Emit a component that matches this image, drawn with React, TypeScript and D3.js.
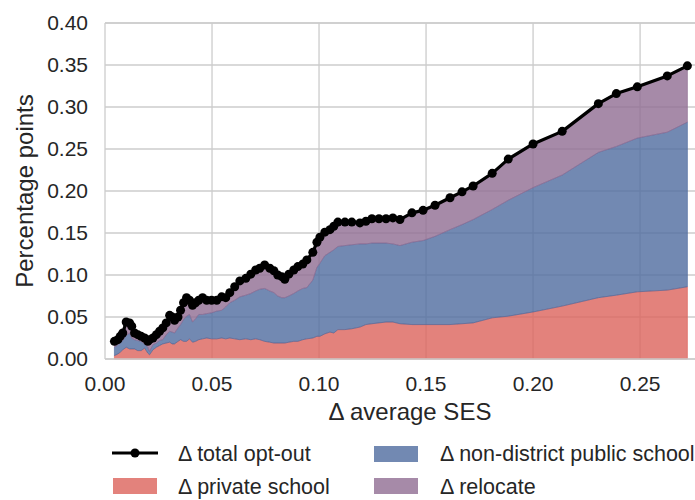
import * as d3 from "d3";

// x: change in average SES
const sesDelta = [
  0.0044, 0.006, 0.0071, 0.0083, 0.0099, 0.0115, 0.0125, 0.0138, 0.0153, 0.0169,
  0.0185, 0.02, 0.0208, 0.0224, 0.024, 0.0255, 0.027, 0.0286, 0.0302, 0.0314,
  0.0325, 0.0341, 0.0353, 0.0367, 0.0381, 0.0395, 0.0409, 0.0423, 0.0438, 0.0456,
  0.0475, 0.0498, 0.0522, 0.0545, 0.0564, 0.0583, 0.0606, 0.063, 0.0658, 0.0681,
  0.0704, 0.0723, 0.0746, 0.077, 0.0789, 0.0807, 0.0826, 0.084, 0.0859, 0.0882,
  0.0901, 0.0924, 0.0943, 0.0971, 0.099, 0.1004, 0.1027, 0.1051, 0.1069, 0.1088,
  0.1121, 0.1153, 0.1191, 0.1219, 0.1247, 0.128, 0.1313, 0.1345, 0.1378, 0.1434,
  0.1486, 0.1542, 0.1612, 0.1668, 0.172, 0.1809, 0.1884, 0.2, 0.2136, 0.2305,
  0.2389, 0.2487, 0.2627, 0.2721,
];

const totalOptOut = [
  0.021, 0.023, 0.027, 0.031, 0.044, 0.043, 0.039, 0.031, 0.029, 0.027,
  0.025, 0.021, 0.023, 0.025, 0.029, 0.033, 0.037, 0.043, 0.052, 0.05,
  0.046, 0.05, 0.058, 0.067, 0.073, 0.07, 0.064, 0.067, 0.07, 0.073,
  0.07, 0.07, 0.07, 0.074, 0.073, 0.079, 0.086, 0.093, 0.096, 0.101,
  0.106, 0.108, 0.112, 0.108, 0.105, 0.1, 0.098, 0.095, 0.101, 0.106,
  0.11, 0.113, 0.118, 0.127, 0.139, 0.145, 0.151, 0.154, 0.158, 0.163,
  0.163, 0.163, 0.162, 0.164, 0.167, 0.167, 0.167, 0.168, 0.166, 0.174,
  0.177, 0.183, 0.192, 0.199, 0.206, 0.221, 0.238, 0.256, 0.271, 0.304,
  0.316, 0.324, 0.337, 0.349,
];

const privateSchool = [
  0.004, 0.006, 0.008, 0.011, 0.014, 0.012, 0.012, 0.012, 0.01, 0.01,
  0.013, 0.007, 0.005, 0.011, 0.014, 0.016, 0.018, 0.019, 0.02, 0.018,
  0.018, 0.021, 0.023, 0.021, 0.021, 0.024, 0.02, 0.021, 0.023, 0.024,
  0.025, 0.024, 0.024, 0.025, 0.024, 0.025, 0.024, 0.023, 0.024, 0.023,
  0.024, 0.023, 0.021, 0.02, 0.019, 0.019, 0.019, 0.019, 0.02, 0.021,
  0.021, 0.023, 0.024, 0.025, 0.027, 0.027, 0.03, 0.032, 0.031, 0.035,
  0.035, 0.036, 0.038, 0.041, 0.042, 0.043, 0.044, 0.044, 0.042, 0.041,
  0.041, 0.041, 0.041, 0.042, 0.043, 0.049, 0.051, 0.056, 0.063, 0.073,
  0.076, 0.08, 0.082, 0.086,
];

const nonDistrict = [
  0.01, 0.011, 0.011, 0.011, 0.014, 0.019, 0.013, 0.011, 0.012, 0.011,
  0.005, 0.007, 0.004, 0.006, 0.005, 0.006, 0.005, 0.01, 0.013, 0.014,
  0.013, 0.016, 0.018, 0.026, 0.03, 0.029, 0.024, 0.027, 0.03, 0.029,
  0.029, 0.031, 0.033, 0.033, 0.038, 0.042, 0.046, 0.051, 0.052, 0.055,
  0.057, 0.06, 0.063, 0.061, 0.06, 0.056, 0.054, 0.054, 0.055, 0.057,
  0.06, 0.061, 0.061, 0.069, 0.082, 0.087, 0.093, 0.095, 0.099, 0.099,
  0.1, 0.1, 0.099, 0.096, 0.096, 0.095, 0.094, 0.093, 0.093, 0.098,
  0.1, 0.105, 0.113, 0.118, 0.123, 0.129, 0.138, 0.148, 0.156, 0.173,
  0.177, 0.183, 0.188, 0.196,
];

const relocate = [
  0.007, 0.006, 0.008, 0.009, 0.016, 0.012, 0.014, 0.008, 0.007, 0.006,
  0.007, 0.007, 0.014, 0.008, 0.01, 0.011, 0.014, 0.014, 0.019, 0.018,
  0.015, 0.013, 0.017, 0.02, 0.022, 0.017, 0.02, 0.019, 0.017, 0.02,
  0.016, 0.015, 0.013, 0.016, 0.011, 0.012, 0.016, 0.019, 0.02, 0.023,
  0.025, 0.025, 0.028, 0.027, 0.026, 0.025, 0.025, 0.022, 0.026, 0.028,
  0.029, 0.029, 0.033, 0.033, 0.03, 0.031, 0.028, 0.027, 0.028, 0.029,
  0.028, 0.027, 0.025, 0.027, 0.029, 0.029, 0.029, 0.031, 0.031, 0.035,
  0.036, 0.037, 0.038, 0.039, 0.04, 0.043, 0.049, 0.052, 0.052, 0.058,
  0.063, 0.061, 0.067, 0.067,
];

const xTicks = [0, 0.05, 0.1, 0.15, 0.2, 0.25];
const yTicks = [0, 0.05, 0.1, 0.15, 0.2, 0.25, 0.3, 0.35, 0.4];

const layers = [
  { key: "private", label: "\u0394 private school", color: "#dc635b" },
  { key: "nonDistrict", label: "\u0394 non-district public school", color: "#4f6b9f" },
  { key: "relocate", label: "\u0394 relocate", color: "#906d92" },
];

const W = 695;
const H = 500;
const PLOT = { left: 105, right: 715, top: 23, bottom: 359 };
const FONT = "'Liberation Sans', Arial, sans-serif";
const GRID = "#cccccc";
const TXT = "#262626";

export default function App() {
  const x = d3.scaleLinear().domain([0, 0.285]).range([PLOT.left, PLOT.right]);
  const y = d3.scaleLinear().domain([0, 0.4]).range([PLOT.bottom, PLOT.top]);

  const rows = sesDelta.map((s, i) => ({
    s,
    private: privateSchool[i],
    nonDistrict: nonDistrict[i],
    relocate: relocate[i],
  }));
  const stacked = d3.stack<any>().keys(layers.map((l) => l.key))(rows);

  const area = d3
    .area<any>()
    .x((d) => x(d.data.s))
    .y0((d) => y(d[0]))
    .y1((d) => y(d[1]));

  const pts = sesDelta.map((s, i) => [s, totalOptOut[i]] as [number, number]);
  const line = d3
    .line<[number, number]>()
    .x((d) => x(d[0]))
    .y((d) => y(d[1]));

  return (
    <div style={{ position: "absolute", left: 0, top: 0 }}>
      <svg width={W} height={H} style={{ display: "block", background: "#fff" }} fontFamily={FONT}>
        {/* grid */}
        {yTicks.map((t) => (
          <line key={"gy" + t} x1={PLOT.left} x2={PLOT.right} y1={y(t)} y2={y(t)} stroke={GRID} strokeWidth={1.3} />
        ))}
        {xTicks.slice(1).map((t) => (
          <line key={"gx" + t} x1={x(t)} x2={x(t)} y1={PLOT.top} y2={PLOT.bottom} stroke={GRID} strokeWidth={1.3} />
        ))}

        {/* stacked areas */}
        {stacked.map((s, i) => (
          <path
            key={layers[i].key}
            d={area(s) || ""}
            fill={layers[i].color}
            fillOpacity={0.8}
            stroke={layers[i].color}
            strokeOpacity={0.8}
            strokeWidth={0.8}
          />
        ))}

        {/* frame */}
        <line x1={PLOT.left} x2={PLOT.left} y1={PLOT.top} y2={PLOT.bottom} stroke={GRID} strokeWidth={1.3} />
        <line x1={PLOT.left} x2={PLOT.right} y1={PLOT.bottom} y2={PLOT.bottom} stroke={GRID} strokeWidth={1.3} />
        <line x1={PLOT.left} x2={PLOT.right} y1={PLOT.top} y2={PLOT.top} stroke={GRID} strokeWidth={1.3} />

        {/* total opt-out */}
        <path d={line(pts) || ""} fill="none" stroke="#000" strokeWidth={3.2} strokeLinejoin="round" />
        {pts.map((p, i) => (
          <circle key={i} cx={x(p[0])} cy={y(p[1])} r={4.5} fill="#000" />
        ))}

        {/* y ticks */}
        {yTicks.map((t) => (
          <text key={"ty" + t} x={88} y={y(t)} dy="0.35em" textAnchor="end" fontSize={21} fill={TXT}>
            {d3.format(".2f")(t)}
          </text>
        ))}
        {/* x ticks */}
        {xTicks.map((t) => (
          <text key={"tx" + t} x={x(t)} y={384} dy="0.35em" textAnchor="middle" fontSize={21} fill={TXT}>
            {d3.format(".2f")(t)}
          </text>
        ))}

        <text x={410} y={412} dy="0.35em" textAnchor="middle" fontSize={24} fill={TXT}>
          {"\u0394 average SES"}
        </text>
        <text
          transform={`translate(25,${(PLOT.top + PLOT.bottom) / 2}) rotate(-90)`}
          dy="0.35em"
          textAnchor="middle"
          fontSize={24}
          fill={TXT}
        >
          Percentage points
        </text>

        {/* legend */}
        <g fontSize={21.5} fill={TXT}>
          <line x1={112} x2={158} y1={453} y2={453} stroke="#000" strokeWidth={3.2} />
          <circle cx={135} cy={453} r={4.5} fill="#000" />
          <text x={178} y={453} dy="0.35em">{"\u0394 total opt-out"}</text>

          <rect x={113} y={478} width={44} height={16} fill={layers[0].color} fillOpacity={0.8} />
          <text x={178} y={486} dy="0.35em">{layers[0].label}</text>

          <rect x={374} y={446} width={44} height={16} fill={layers[1].color} fillOpacity={0.8} />
          <text x={440} y={453} dy="0.35em">{layers[1].label}</text>

          <rect x={374} y={478} width={44} height={16} fill={layers[2].color} fillOpacity={0.8} />
          <text x={440} y={486} dy="0.35em">{layers[2].label}</text>
        </g>
      </svg>
    </div>
  );
}
